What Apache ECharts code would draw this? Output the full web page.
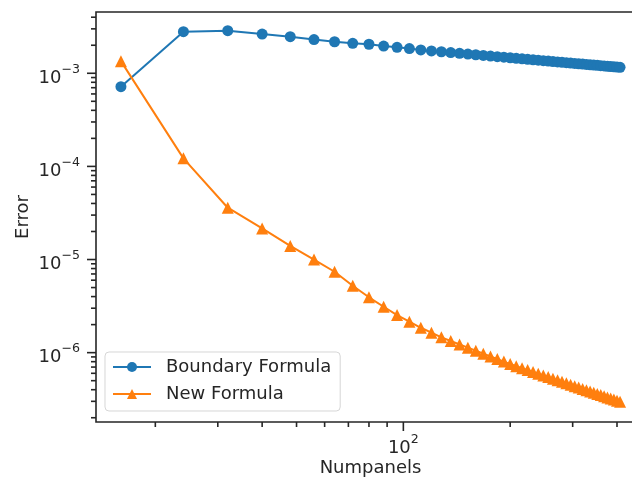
<!DOCTYPE html>
<html><head><meta charset="utf-8">
<script src="https://cdn.jsdelivr.net/npm/echarts@6/dist/echarts.min.js"></script>
<style>html,body{margin:0;padding:0;background:#fff}#c{width:632px;height:478px}</style>
</head><body><div id="c"></div>
<script>
// ---- data ----
const numpanels = [16,24,32,40,48,56,64,72,80,88,96,104,112,120,128,136,144,152,160,168,176,184,192,200,208,216,224,232,240,248,256,264,272,280,288,296,304,312,320,328,336,344,352,360,368,376,384,392,400,408];
const boundaryFormula = [7.18e-4,2.80e-3,2.87e-3,2.64e-3,2.47e-3,2.30e-3,2.18e-3,2.10e-3,2.05e-3,1.96e-3,1.90e-3,1.84e-3,1.78e-3,1.74e-3,
  1.703e-3,1.669e-3,1.638e-3,1.608e-3,1.581e-3,1.556e-3,1.532e-3,1.509e-3,1.488e-3,1.468e-3,1.449e-3,1.431e-3,1.413e-3,1.397e-3,1.381e-3,1.366e-3,1.352e-3,1.338e-3,1.325e-3,1.312e-3,1.300e-3,1.288e-3,1.277e-3,1.266e-3,1.255e-3,1.245e-3,1.235e-3,1.225e-3,1.216e-3,1.207e-3,1.198e-3,1.190e-3,1.181e-3,1.173e-3,1.165e-3,1.158e-3];
const newFormula = [1.35e-3,1.22e-4,3.60e-5,2.16e-5,1.40e-5,1.00e-5,7.39e-6,5.23e-6,3.93e-6,3.11e-6,2.53e-6,2.15e-6,1.85e-6,1.64e-6,1.46e-6,
  1.334e-6,1.226e-6,1.132e-6,1.049e-6,9.76e-7,9.11e-7,8.53e-7,8.01e-7,7.54e-7,7.16e-7,6.82e-7,6.50e-7,6.21e-7,5.94e-7,5.69e-7,5.46e-7,5.25e-7,5.04e-7,4.86e-7,4.68e-7,4.52e-7,4.36e-7,4.22e-7,4.08e-7,3.95e-7,3.83e-7,3.71e-7,3.60e-7,3.50e-7,3.40e-7,3.30e-7,3.21e-7,3.13e-7,3.05e-7,2.97e-7];
const seriesNames = ['Boundary Formula', 'New Formula'];
const xMajorTicks = [100];
const xMajorExp = ['2'];
const xMinorTicks = [20,30,40,50,60,70,80,90,200,300,400];
const yMajorTicks = [1e-6,1e-5,1e-4,1e-3];
const yMajorExp = ['\u22126','\u22125','\u22124','\u22123'];
const yMinorTicks = [2e-7,3e-7,4e-7,5e-7,6e-7,7e-7,8e-7,9e-7,
  2e-6,3e-6,4e-6,5e-6,6e-6,7e-6,8e-6,9e-6,
  2e-5,3e-5,4e-5,5e-5,6e-5,7e-5,8e-5,9e-5,
  2e-4,3e-4,4e-4,5e-4,6e-4,7e-4,8e-4,9e-4,
  2e-3,3e-3,4e-3];
const xRange = [13.61, 479.7];
const yRange = [1.80e-7, 4.55e-3];

// ---- chart ----
const FONT = "'DejaVu Sans', sans-serif";
const INK = '#262626';
const BLUE = '#1f77b4', ORANGE = '#ff7f0e';
const chart = echarts.init(document.getElementById('c'), null, {renderer: 'canvas'});
const option = {
  animation: false,
  backgroundColor: '#ffffff',
  grid: {left: 96, top: 12, width: 549, height: 410, outerBoundsMode: 'none', containLabel: false,
    show: true, borderColor: INK, borderWidth: 1.6, backgroundColor: 'transparent'},
  xAxis: {type: 'log', logBase: 10, min: xRange[0], max: xRange[1],
    name: 'Numpanels', nameLocation: 'middle', nameGap: 37,
    nameTextStyle: {fontFamily: FONT, fontSize: 18, color: INK, lineHeight: 18},
    axisLine: {show: false}, axisTick: {show: false}, axisLabel: {show: false}, splitLine: {show: false}},
  yAxis: {type: 'log', logBase: 10, min: yRange[0], max: yRange[1],
    name: 'Error', nameLocation: 'middle', nameGap: 64,
    nameTextStyle: {fontFamily: FONT, fontSize: 18, color: INK, lineHeight: 18},
    axisLine: {show: false}, axisTick: {show: false}, axisLabel: {show: false}, splitLine: {show: false}},
  legend: {orient: 'vertical', left: 105, top: 352, padding: [6, 9, 8, 7],
    itemWidth: 38, itemHeight: 12.5, itemGap: 9,
    backgroundColor: 'rgba(255,255,255,0.8)', borderColor: 'rgba(204,204,204,0.8)', borderWidth: 1, borderRadius: 4,
    textStyle: {fontFamily: FONT, fontSize: 18, color: INK, lineHeight: 18, padding: [0, 0, 0, 10]},
    data: seriesNames},
  series: [
    {name: seriesNames[0], type: 'line', data: numpanels.map((x, i) => [x, boundaryFormula[i]]),
      symbol: 'circle', symbolSize: 11, lineStyle: {width: 2, color: BLUE}, itemStyle: {color: BLUE}, z: 2},
    {name: seriesNames[1], type: 'line', data: numpanels.map((x, i) => [x, newFormula[i]]),
      symbol: 'triangle', symbolSize: 12, lineStyle: {width: 2, color: ORANGE}, itemStyle: {color: ORANGE}, z: 3}
  ]
};
chart.setOption(option);

// ---- axis ticks & labels (matplotlib-like log ticks) ----
const px = v => chart.convertToPixel({xAxisIndex: 0}, v);
const py = v => chart.convertToPixel({yAxisIndex: 0}, v);
const x0 = px(xRange[0]);
const y0 = py(yRange[0]);
const MAJ = 9, MIN = 5, TW = 1.6;
const els = [];
function tick(x1, y1, x2, y2) {
  els.push({type: 'line', silent: true, z: 10, shape: {x1, y1, x2, y2}, style: {stroke: INK, lineWidth: TW}});
}
function rich(exp) {
  return {
    text: '{b|10}{s|' + exp + '}',
    rich: {
      b: {fontFamily: FONT, fontSize: 18, fill: INK, lineHeight: 24, verticalAlign: 'bottom'},
      s: {fontFamily: FONT, fontSize: 12.6, fill: INK, lineHeight: 12, verticalAlign: 'top'}
    }
  };
}
xMinorTicks.forEach(v => { const x = px(v); tick(x, y0, x, y0 + MIN); });
yMinorTicks.forEach(v => { const y = py(v); tick(x0 - MIN, y, x0, y); });
xMajorTicks.forEach((v, i) => {
  const x = px(v); tick(x, y0, x, y0 + MAJ);
  els.push({type: 'text', silent: true, z: 10, x: x, y: y0 + 11,
    style: Object.assign(rich(xMajorExp[i]), {align: 'center', verticalAlign: 'top'})});
});
yMajorTicks.forEach((v, i) => {
  const y = py(v); tick(x0 - MAJ, y, x0, y);
  els.push({type: 'text', silent: true, z: 10, x: x0 - 16, y: y + 1.6,
    style: Object.assign(rich(yMajorExp[i]), {align: 'right', verticalAlign: 'middle'})});
});
chart.setOption({graphic: {elements: els}});
</script>
</body></html>
